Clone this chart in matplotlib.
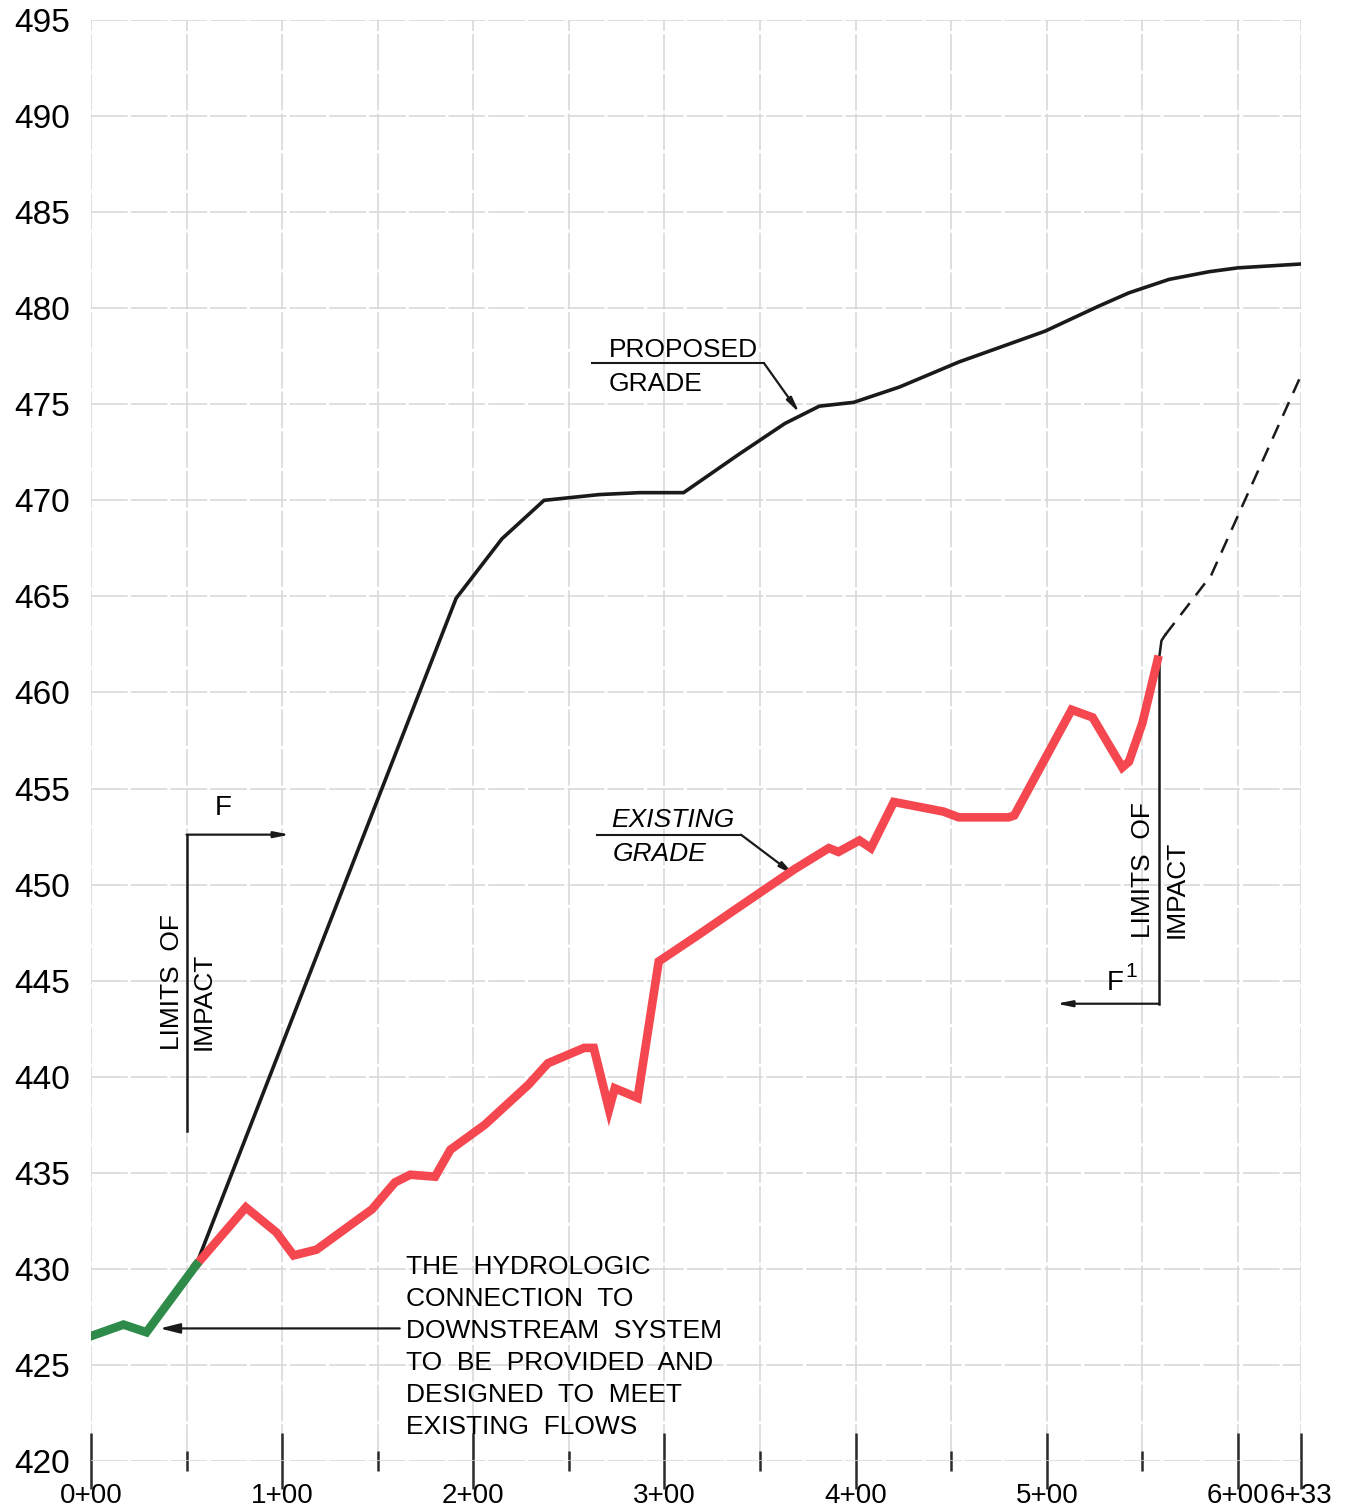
import matplotlib
matplotlib.use("Agg")
import matplotlib.pyplot as plt
import numpy as np

plt.rcParams['font.family'] = ['Liberation Sans', 'DejaVu Sans']

# stations in feet, elevations in feet
green_sta = [0, 17, 29, 55]
green_elev = [426.5, 427.1, 426.7, 430.2]

exist_sta = [55, 81, 97, 106, 118, 147, 159, 167, 180, 188, 206, 229, 239, 258, 263,
             271, 274, 286, 297, 318, 337, 368, 386, 391, 402, 408, 420, 446, 454,
             480, 483, 513, 524, 539.5, 543, 550, 558]
exist_elev = [430.2, 433.2, 431.9, 430.7, 431.0, 433.1, 434.5, 434.9, 434.8, 436.2,
              437.5, 439.6, 440.7, 441.5, 441.5, 438.3, 439.4, 438.9, 446.0, 447.4,
              448.7, 450.8, 451.9, 451.7, 452.3, 451.9, 454.3, 453.8, 453.5, 453.5,
              453.6, 459.1, 458.7, 456.1, 456.4, 458.4, 461.7]

prop_sta = [55, 191, 215, 237, 266, 287, 310, 339, 363, 371, 381, 399, 423, 454,
            499, 527, 543, 564, 585, 600, 633]
prop_elev = [430.2, 464.9, 468.0, 470.0, 470.3, 470.4, 470.4, 472.4, 474.0, 474.4,
             474.9, 475.1, 475.9, 477.2, 478.8, 480.1, 480.8, 481.5, 481.9, 482.1, 482.3]

tie_sta = [558.8, 560, 562]
tie_elev = [461.8, 462.7, 463.0]

dash_sta = [562, 586, 600, 633]
dash_elev = [463.0, 466.1, 469.2, 476.5]

x_major = [0, 100, 200, 300, 400, 500, 600, 633]
x_minor = [50, 150, 250, 350, 450, 550]
y_ticks = list(range(420, 500, 5))

hydro_lines = ["THE  HYDROLOGIC", "CONNECTION  TO", "DOWNSTREAM  SYSTEM",
               "TO  BE  PROVIDED  AND", "DESIGNED  TO  MEET", "EXISTING  FLOWS"]


def station(v):
    return f"{int(v) // 100}+{int(v) % 100:02d}"


fig = plt.figure(figsize=(13.46, 15.12), dpi=100)
ax = fig.add_axes([91 / 1346, 1 - 1461 / 1512, 1210 / 1346, 1441 / 1512])
ax.set_xlim(0, 633)
ax.set_ylim(420, 495)

for s in ax.spines.values():
    s.set_visible(False)

ax.set_xticks(x_major)
ax.set_xticks(x_minor, minor=True)
ax.set_xticklabels([station(v) for v in x_major], fontsize=20)
ax.set_yticks(y_ticks)
ax.set_yticklabels([str(v) for v in y_ticks], fontsize=24)
ax.tick_params(axis='x', which='major', direction='inout', length=40, width=1.8,
               color='#2a2a2a', pad=-4)
ax.tick_params(axis='x', which='minor', direction='inout', length=14, width=1.8,
               color='#2a2a2a')
ax.tick_params(axis='y', length=0, pad=15)
ax.grid(True, which='both', color='#d6d6d6', lw=1.1, linestyle=(0, (24, 2)))
ax.set_axisbelow(True)

# grades
ax.plot(prop_sta, prop_elev, color='#1a1a1a', lw=2.6, solid_joinstyle='miter', zorder=3)
ax.plot(exist_sta, exist_elev, color='#f5474f', lw=6.2, solid_joinstyle='miter', zorder=4)
ax.plot(green_sta, green_elev, color='#2e8b4a', lw=6.2, solid_joinstyle='miter', zorder=4)
ax.plot(tie_sta, tie_elev, color='#1a1a1a', lw=1.8, zorder=3)
ax.plot(dash_sta, dash_elev, color='#1a1a1a', lw=1.8, linestyle=(0, (6, 4)), zorder=3)

arrow = dict(arrowstyle='-|>,head_length=0.9,head_width=0.18', color='#1a1a1a', lw=1.6,
             shrinkA=0, shrinkB=0)

# left limits of impact
ax.plot([50, 50], [437.2, 452.6], color='#1a1a1a', lw=1.8)
ax.annotate('', xy=(104, 452.6), xytext=(50, 452.6), arrowprops=arrow)
ax.text(69, 453.3, 'F', fontsize=20, ha='center', va='bottom')
ax.text(42.5, 441.4, 'LIMITS  OF', fontsize=19, rotation=90, ha='center', va='bottom')
ax.text(59, 441.4, 'IMPACT', fontsize=19, rotation=90, ha='center', va='bottom')

# right limits of impact
ax.plot([558.8, 558.8], [443.8, 461.8], color='#1a1a1a', lw=1.8)
ax.annotate('', xy=(505, 443.8), xytext=(558.8, 443.8), arrowprops=arrow)
ax.text(536, 444.2, 'F', fontsize=20, ha='center', va='bottom')
ax.text(544, 445.0, '1', fontsize=15, ha='center', va='bottom')
ax.text(550.5, 447.2, 'LIMITS  OF', fontsize=19, rotation=90, ha='center', va='bottom')
ax.text(568, 447.2, 'IMPACT', fontsize=19, rotation=90, ha='center', va='bottom')

# proposed grade label
ax.plot([262, 352], [477.15, 477.15], color='#1a1a1a', lw=1.5)
ax.annotate('', xy=(370.6, 474.55), xytext=(352, 477.15), arrowprops=arrow)
ax.text(271, 477.45, 'PROPOSED', fontsize=19, ha='left', va='baseline')
ax.text(271, 475.7, 'GRADE', fontsize=19, ha='left', va='baseline')

# existing grade label
ax.plot([264.5, 340], [452.6, 452.6], color='#1a1a1a', lw=1.5)
ax.annotate('', xy=(368, 450.5), xytext=(340, 452.6), arrowprops=arrow)
ax.text(272, 453.0, 'EXISTING', fontsize=19, style='italic', ha='left', va='baseline')
ax.text(273, 451.25, 'GRADE', fontsize=19, style='italic', ha='left', va='baseline')

# hydrologic connection note
ax.annotate('', xy=(36, 426.9), xytext=(161.5, 426.9),
            arrowprops=dict(arrowstyle='-|>,head_length=1.2,head_width=0.3',
                            color='#1a1a1a', lw=1.6, shrinkA=0, shrinkB=0))
for i, line in enumerate(hydro_lines):
    ax.text(165, 429.73 - 1.665 * i, line, fontsize=19, ha='left', va='baseline')

fig.savefig('out.png', dpi=100)
